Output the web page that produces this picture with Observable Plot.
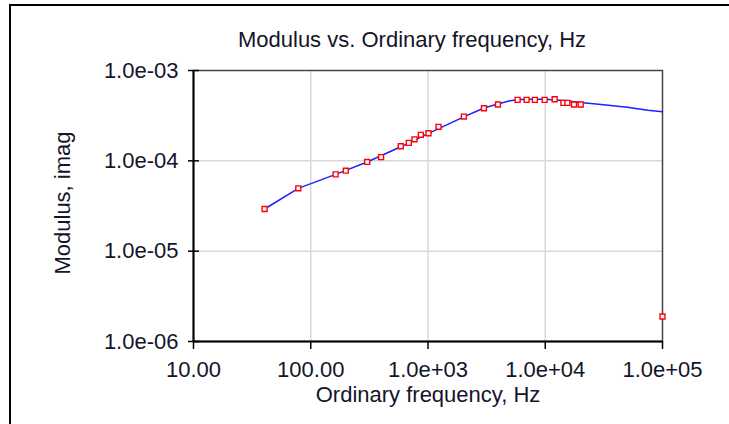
<!DOCTYPE html>
<html>
<head>
<meta charset="utf-8">
<script src="https://cdn.jsdelivr.net/npm/d3@7"></script>
<script src="https://cdn.jsdelivr.net/npm/@observablehq/plot@0.6"></script>
<style>
  html, body { margin: 0; padding: 0; background: #fff; }
  #wrap { position: relative; width: 729px; height: 424px; overflow: hidden; }
  #border { position: absolute; left: 9px; top: 4px; width: 800px; height: 500px;
            border-top: 2px solid #000; border-left: 2px solid #000; }
  #chart { position: absolute; left: 0; top: 0; }
</style>
</head>
<body>
<div id="wrap"><div id="border"></div><div id="chart"></div></div>
<script>
const title = "Modulus vs. Ordinary frequency, Hz";
const xLabel = "Ordinary frequency, Hz";
const yLabel = "Modulus, imag";

// measured points (red squares)
const markerFreq = [40.4, 78.3, 163, 199, 303, 398, 586, 686, 767, 869, 1009, 1230,
  2023, 3000, 3950, 5810, 6935, 8160, 9880, 12030, 14280, 15450, 17600, 20060, 100000];
const markerModulus = [2.93e-5, 4.96e-5, 7.08e-5, 7.78e-5, 9.73e-5, 1.10e-4, 1.45e-4, 1.58e-4,
  1.73e-4, 1.94e-4, 2.02e-4, 2.38e-4, 3.09e-4, 3.82e-4, 4.20e-4, 4.73e-4, 4.73e-4, 4.73e-4,
  4.73e-4, 4.81e-4, 4.38e-4, 4.38e-4, 4.20e-4, 4.20e-4, 1.89e-6];

// fitted curve (blue line)
const curveFreq = [40.4, 78.3, 163, 303, 586, 1000, 2000, 3000, 3950, 5000, 6000, 8000, 10000,
  15000, 20000, 30000, 50000, 75000, 100000];
const curveModulus = [2.93e-5, 4.96e-5, 7.08e-5, 9.7e-5, 1.43e-4, 2.0e-4, 3.05e-4, 3.85e-4,
  4.25e-4, 4.62e-4, 4.78e-4, 4.82e-4, 4.82e-4, 4.62e-4, 4.42e-4, 4.2e-4, 3.92e-4, 3.62e-4, 3.5e-4];

const xDomain = [10, 100000];
const yDomain = [1e-6, 1e-3];
const xTicks = [10, 100, 1000, 10000, 100000];
const xTickLabels = ["10.00", "100.00", "1.0e+03", "1.0e+04", "1.0e+05"];
const yTicks = [1e-6, 1e-5, 1e-4, 1e-3];
const yTickLabels = ["1.0e-06", "1.0e-05", "1.0e-04", "1.0e-03"];

const markers = markerFreq.map((f, i) => ({f, m: markerModulus[i]}));
const curve = curveFreq.map((f, i) => ({f, m: curveModulus[i]}));
const xFmt = d => xTickLabels[xTicks.indexOf(d)];
const yFmt = d => yTickLabels[yTicks.indexOf(d)];
const gridX = xTicks.slice(1, -1);
const gridY = yTicks.slice(1, -1);

const textColor = "#14142a";
const fs = 22;
const chart = Plot.plot({
  width: 729,
  height: 424,
  marginLeft: 193,
  marginRight: 67,
  marginTop: 70,
  marginBottom: 83,
  style: { fontFamily: "'Liberation Sans', Arial, sans-serif", fontSize: fs + "px", color: textColor, background: "transparent" },
  x: { type: "log", domain: xDomain },
  y: { type: "log", domain: yDomain },
  marks: [
    Plot.gridX(gridX, { stroke: "#d8d8d8", strokeOpacity: 1, strokeWidth: 1.5 }),
    Plot.gridY(gridY, { stroke: "#d8d8d8", strokeOpacity: 1, strokeWidth: 1.5 }),
    Plot.frame({ stroke: "#444", strokeWidth: 1.5 }),
    Plot.ruleX([xDomain[0]], { stroke: "#000", strokeWidth: 2 }),
    Plot.ruleY([yDomain[0]], { stroke: "#000", strokeWidth: 2 }),
    Plot.axisX(xTicks, { tickSize: 8, tickPadding: 12, tickFormat: xFmt, stroke: "#000", strokeWidth: 1.5, fill: textColor, label: null, fontSize: fs }),
    Plot.axisY(yTicks, { tickSize: 11, dx: 6, text: null, stroke: "#000", strokeWidth: 1.5, label: null }),
    Plot.axisY(yTicks, { tickSize: 0, tickPadding: 15, tickFormat: yFmt, fill: textColor, label: null, fontSize: fs }),
    Plot.line(curve, { x: "f", y: "m", stroke: "#1f1fff", strokeWidth: 1.5 }),
    Plot.dot(markers, { x: "f", y: "m", symbol: "square", r: 2.8, stroke: "#ff0000", strokeWidth: 1.4, fill: "#fff" }),
    Plot.text([title], { frameAnchor: "top", lineAnchor: "middle", textAnchor: "middle", dy: -31, dx: -16, fontSize: fs, fill: textColor }),
    Plot.text([xLabel], { frameAnchor: "bottom", lineAnchor: "middle", textAnchor: "middle", dy: 53, fontSize: fs, fill: textColor }),
    Plot.text([yLabel], { frameAnchor: "left", lineAnchor: "middle", textAnchor: "middle", dx: -131, dy: -3, rotate: -90, fontSize: fs, fill: textColor })
  ]
});
document.getElementById("chart").appendChild(chart);
</script>
</body>
</html>
